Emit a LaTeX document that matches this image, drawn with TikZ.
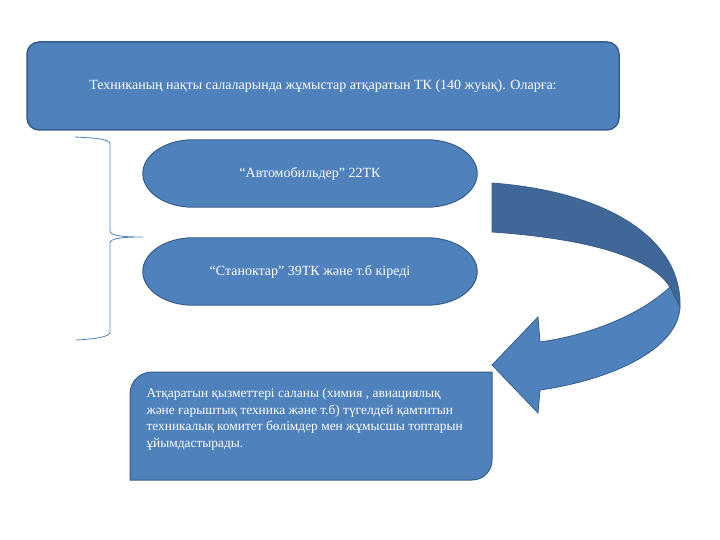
\documentclass[tikz,border=0pt]{standalone}
\usepackage{fontspec}
\setmainfont{Liberation Serif}
\usepackage{tikz}
\usetikzlibrary{calc}
\usetikzlibrary{backgrounds}
\definecolor{slideblue}{HTML}{4F81BD}
\definecolor{slideedge}{HTML}{385D8A}
\definecolor{slidedark}{HTML}{3F6797}
\tikzset{every node/.style={text=white, font=\fontsize{14}{17}\selectfont}}
\tikzset{headbox/.style={draw=slideedge, line width=1.5pt, fill=slideblue, rounded corners=12pt, minimum width=592pt, minimum height=88pt}}
\tikzset{pillbox/.style={minimum width=334pt, minimum height=67pt}}
\tikzset{pillline/.style={draw=slideedge, line width=1pt, fill=slideblue}}
\tikzset{taskbox/.style={draw=slideedge, line width=1pt, fill=slideblue}}
\tikzset{ribbon/.style={draw=slideedge, line width=0.8pt}}
% pill with flat elliptic ends behind a named node
\newcommand{\pillpath}[1]{%
  \begin{scope}[on background layer]
    \draw[pillline] ($(#1.north west)+(50,0)$) -- ($(#1.north east)+(-50,0)$)
        .. controls +(27.6,0) and +(0,-18.5) .. (#1.east)
        .. controls +(0,18.5) and +(27.6,0) .. ($(#1.south east)+(-50,0)$)
        -- ($(#1.south west)+(50,0)$)
        .. controls +(-27.6,0) and +(0,18.5) .. (#1.west)
        .. controls +(0,-18.5) and +(-27.6,0) .. ($(#1.north west)+(50,0)$) -- cycle;
  \end{scope}}

\begin{document}
\begin{tikzpicture}[x=1pt, y=-1pt]
    \useasboundingbox (0,0) rectangle (720,540);

    \node[headbox] at (323,86) (head) {Техниканың нақты салаларында жұмыстар атқаратын ТК (140 жуық). Оларға:};
    \node[pillbox] at (310,173.5) (auto) {“Автомобильдер” 22ТК};
    \node[pillbox] at (310,271.5) (stanok) {“Станоктар” 39ТК және т.б кіреді};
    \pillpath{auto}
    \pillpath{stanok}

    % brace on the left
    \coordinate (brtop) at (75,137);
    \coordinate (brtip) at (143,237);
    \coordinate (brbot) at (76,340);
    \draw[slideblue, line width=0.8pt] (brtop) .. controls (95,138) and (110,139) .. (110,144)
        -- (110,231) .. controls (110,236) and (124,237) .. (brtip)
        .. controls (124,237) and (110,238) .. (110,243)
        -- (110,332) .. controls (110,337) and (95,339) .. (brbot);

    % lower box
    \coordinate (tnw) at (130,372);
    \coordinate (tse) at (492,480);
    \draw[taskbox] (tnw |- tse) [rounded corners=22pt] -- (tnw) [sharp corners] -- (tse |- tnw)
        [rounded corners=20pt] -- (tse) [sharp corners] -- cycle;
    \node[anchor=north west, align=left, font=\fontsize{13.4}{16.4}\selectfont] at (143,385) (task) {Атқаратын қызметтері саланы (химия , авиациялық\\
        және ғарыштық техника және т.б) түгелдей қамтитын\\
        техникалық комитет бөлімдер мен жұмысшы топтарын\\
        ұйымдастырады.};

    % curved arrow
    \coordinate (a1) at (492,183);
    \coordinate (a2) at (492,232);
    \coordinate (a3) at (680,307);
    \coordinate (a4) at (670,287);
    \draw[ribbon, fill=slidedark] (a1) .. controls (610,192) and (682,240) .. (a3) -- (a4)
        .. controls (650,255) and (580,238) .. (a2) -- cycle;
    \draw[ribbon, fill=slideblue] (a4) .. controls (640,315) and (590,335) .. (540,342)
        -- (538,317) -- (492,365) -- (538,413) -- (540,390)
        .. controls (610,380) and (678,350) .. (a3) -- cycle;

\end{tikzpicture}
\end{document}
